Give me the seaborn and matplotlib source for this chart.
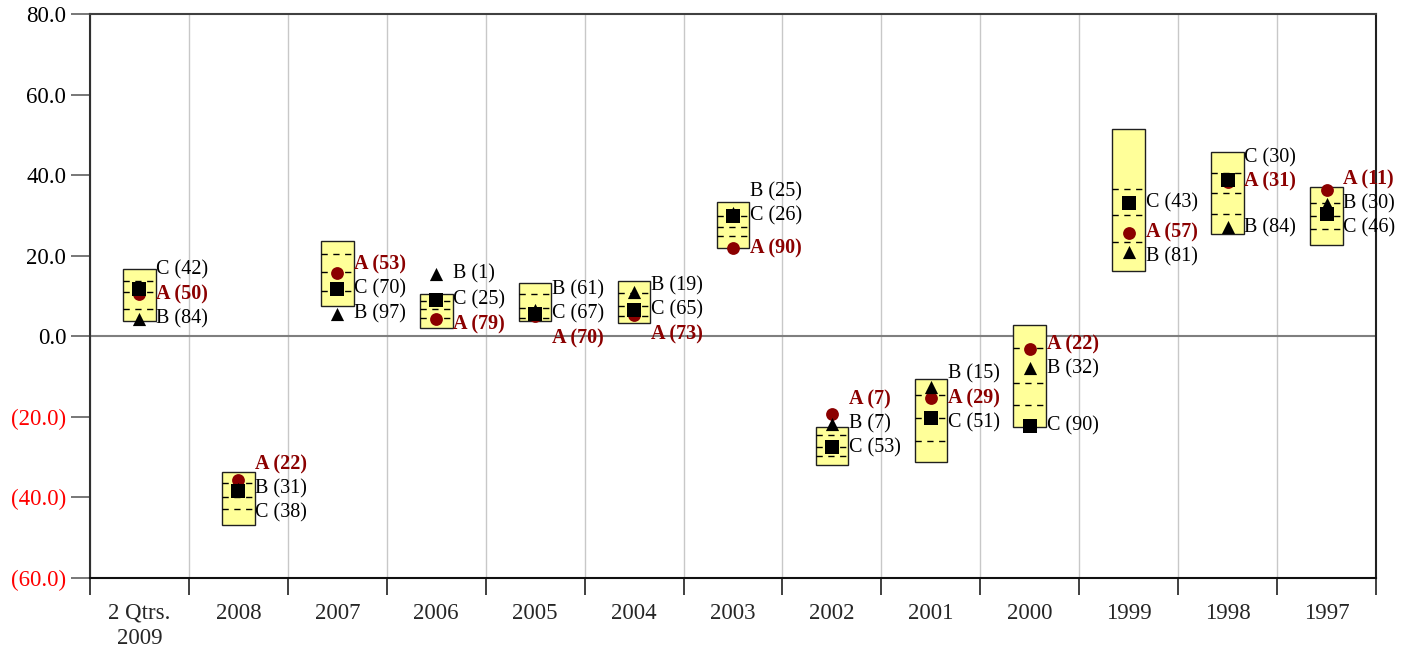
import numpy as np
import pandas as pd
import matplotlib
matplotlib.use("Agg")
import matplotlib.pyplot as plt
import seaborn as sns

# chart data
categories = ["2 Qtrs.\n2009", "2008", "2007", "2006", "2005", "2004", "2003",
              "2002", "2001", "2000", "1999", "1998", "1997"]

box_high = [16.6, -33.7, 23.6, 10.4, 13.3, 13.7, 33.3, -22.4, -10.5, 2.7, 51.4, 45.8, 37.1]
box_low = [3.7, -46.9, 7.5, 2.0, 3.8, 3.4, 21.8, -32.0, -31.1, -22.4, 16.2, 25.3, 22.6]
q_upper = [13.6, -36.3, 20.3, 8.8, 10.4, 10.8, 29.9, -24.6, -14.6, -2.8, 36.5, 40.6, 33.2]
q_mid = [10.9, -39.9, 16.0, 6.7, 6.9, 7.4, 27.2, -27.4, -20.2, -11.7, 30.1, 35.5, 29.9]
q_lower = [6.7, -42.9, 11.2, 4.6, 4.5, 5.0, 24.9, -29.7, -26.1, -17.1, 23.5, 30.3, 26.6]

a_vals = [10.4, -35.7, 15.6, 4.2, 5.0, 5.2, 21.8, -19.4, -15.4, -3.1, 25.7, 38.4, 36.3]
b_vals = [4.2, -37.8, 5.5, 15.4, 6.5, 11.0, 30.5, -21.8, -12.7, -8.0, 20.8, 27.0, 32.8]
c_vals = [11.7, -38.4, 11.7, 9.0, 5.5, 6.5, 29.9, -27.6, -20.2, -22.3, 33.2, 38.8, 30.3]

a_rank = [50, 22, 53, 79, 70, 73, 90, 7, 29, 22, 57, 31, 11]
b_rank = [84, 31, 97, 1, 61, 19, 25, 7, 15, 32, 81, 84, 30]
c_rank = [42, 38, 70, 25, 67, 65, 26, 53, 51, 90, 43, 30, 46]

DARK_RED = "#8B0000"

sns.set_style("white")
plt.rcParams["font.family"] = ["Liberation Serif", "DejaVu Serif"]

fig = plt.figure(figsize=(14.01, 6.5), dpi=100)
ax = fig.add_axes([0.0642, 0.1108, 0.9180, 0.8677])

x = np.arange(len(categories))
half = 0.165

# yellow range boxes
ax.bar(x, np.array(box_high) - np.array(box_low), bottom=box_low, width=2 * half,
       color="#FFFF99", edgecolor="#202020", linewidth=1.0, zorder=2)

# dashed quartile lines inside the boxes
for q in (q_upper, q_mid, q_lower):
    ax.hlines(q, x - half, x + half, colors="black", linestyles=(0, (4.5, 4)),
              linewidth=1.0, zorder=3)

# markers, one series at a time so C sits on top
df = pd.DataFrame({"pos": np.tile(x, 3),
                   "value": a_vals + b_vals + c_vals,
                   "series": ["A"] * len(x) + ["B"] * len(x) + ["C"] * len(x)})
styles = {"A": ("o", DARK_RED, 85), "B": ("^", "black", 90), "C": ("s", "black", 105)}
for name, (mk, col, sz) in styles.items():
    sub = df[df["series"] == name]
    sns.scatterplot(data=sub, x="pos", y="value", marker=mk, color=col, s=sz,
                    linewidth=0, ax=ax, zorder=4, legend=False)

# labels: keep the middle one at its marker, push the others apart
gap = 6.0
for i in range(len(x)):
    items = [("A", a_vals[i], a_rank[i]), ("B", b_vals[i], b_rank[i]),
             ("C", c_vals[i], c_rank[i])]
    items.sort(key=lambda t: t[1], reverse=True)
    mid = items[1][1]
    ys = [max(items[0][1], mid + gap), mid, min(items[2][1], mid - gap)]
    for (name, _, rank), yy in zip(items, ys):
        if name == "A":
            ax.text(i + half + 0.005, yy, f"A ({rank})", color=DARK_RED,
                    fontweight="bold", fontsize=14.5, va="center", ha="left", zorder=5)
        else:
            ax.text(i + half + 0.005, yy, f"{name} ({rank})", color="black",
                    fontsize=14.5, va="center", ha="left", zorder=5)

ax.axhline(0, color="#7f7f7f", linewidth=1.5, zorder=1.5)

ax.set_xlim(-0.5, len(x) - 0.5)
ax.set_ylim(-60, 80)

yticks = np.arange(-60, 81, 20)
ax.set_yticks(yticks)
ax.set_yticklabels([f"{v:.1f}" if v >= 0 else f"({-v:.1f})" for v in yticks])
for lab, v in zip(ax.get_yticklabels(), yticks):
    lab.set_color("red" if v < 0 else "black")

ax.set_xticks(x)
ax.set_xticklabels(categories, linespacing=1.25)
ax.set_xticks(np.arange(-0.5, len(x), 1), minor=True)
ax.tick_params(axis="x", which="major", length=0, pad=18, labelsize=16.5)
ax.tick_params(axis="x", which="minor", length=12, width=1.2, color="#202020",
               direction="out", bottom=True)
ax.tick_params(axis="y", which="major", length=14, width=1.2, color="#606060",
               direction="out", left=True, labelsize=16.5, pad=3)
ax.grid(False)
ax.grid(True, axis="x", which="minor", color="#c8c8c8", linewidth=1.0, zorder=0)
ax.set_axisbelow(True)
ax.set_xlabel("")
ax.set_ylabel("")

for side, col in [("top", "#404040"), ("right", "#202020"), ("left", "#303030"), ("bottom", "#101010")]:
    ax.spines[side].set_visible(True)
    ax.spines[side].set_color(col)
    ax.spines[side].set_linewidth(1.5)

fig.savefig("out.png", dpi=100)
